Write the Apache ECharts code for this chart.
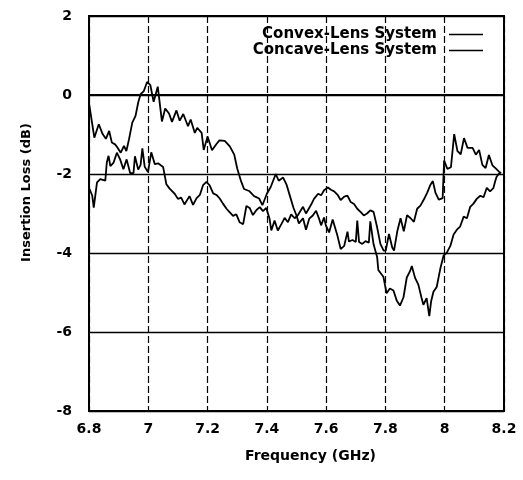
<!DOCTYPE html>
<html>
<head>
<meta charset="utf-8">
<script src="https://cdn.jsdelivr.net/npm/echarts@6/dist/echarts.min.js"></script>
<style>
html,body{margin:0;padding:0;background:#fff;}
#chart{width:523px;height:480px;}
</style>
</head>
<body>
<div id="chart"></div>
<script>
// Tick values
const xTicks = [6.8, 7, 7.2, 7.4, 7.6, 7.8, 8, 8.2];
const yTicks = [-8, -6, -4, -2, 0, 2];

// Convex-Lens System
const freqA = [6.800,6.818,6.833,6.846,6.857,6.868,6.877,6.888,6.896,6.907,6.918,6.926,6.935,6.946,6.957,6.966,6.974,6.985,6.996,7.007,7.018,7.032,7.046,7.057,7.070,7.080,7.095,7.106,7.118,7.134,7.143,7.157,7.165,7.180,7.187,7.200,7.215,7.230,7.240,7.258,7.275,7.290,7.300,7.312,7.323,7.340,7.357,7.374,7.385,7.400,7.413,7.430,7.440,7.455,7.466,7.478,7.490,7.500,7.508,7.522,7.532,7.543,7.555,7.566,7.577,7.583,7.593,7.599,7.610,7.622,7.627,7.638,7.649,7.661,7.672,7.677,7.689,7.700,7.705,7.711,7.722,7.733,7.744,7.749,7.760,7.772,7.776,7.793,7.804,7.815,7.827,7.838,7.849,7.861,7.872,7.883,7.889,7.900,7.911,7.922,7.928,7.939,7.948,7.954,7.962,7.973,7.985,7.996,8.007,8.019,8.030,8.041,8.052,8.064,8.075,8.086,8.097,8.108,8.120,8.131,8.142,8.153,8.164,8.170,8.175,8.188];
const lossA = [-0.20,-1.08,-0.74,-0.99,-1.11,-0.91,-1.20,-1.25,-1.33,-1.46,-1.29,-1.42,-1.12,-0.70,-0.53,-0.19,0.02,0.10,0.33,0.25,-0.17,0.21,-0.67,-0.34,-0.47,-0.68,-0.39,-0.65,-0.48,-0.79,-0.62,-0.96,-0.83,-0.96,-1.39,-1.05,-1.40,-1.24,-1.15,-1.16,-1.30,-1.51,-1.86,-2.16,-2.38,-2.43,-2.56,-2.62,-2.79,-2.50,-2.33,-2.00,-2.17,-2.09,-2.26,-2.56,-2.86,-3.05,-3.25,-3.12,-3.41,-3.13,-3.05,-2.93,-3.15,-3.30,-3.10,-3.30,-3.48,-3.15,-3.15,-3.56,-3.90,-3.82,-3.46,-3.71,-3.67,-3.72,-3.18,-3.72,-3.77,-3.70,-3.74,-3.20,-3.78,-4.10,-4.43,-4.60,-5.02,-4.90,-4.95,-5.20,-5.33,-5.12,-4.62,-4.46,-4.33,-4.63,-4.80,-5.14,-5.31,-5.14,-5.60,-5.23,-4.98,-4.86,-4.40,-4.07,-3.99,-3.82,-3.53,-3.41,-3.33,-3.08,-3.12,-2.83,-2.75,-2.63,-2.55,-2.59,-2.35,-2.44,-2.36,-2.19,-2.07,-1.95];

// Concave-Lens System
const freqB = [6.802,6.811,6.816,6.827,6.838,6.855,6.860,6.866,6.872,6.883,6.894,6.905,6.916,6.927,6.939,6.950,6.955,6.966,6.974,6.980,6.988,6.999,7.010,7.022,7.033,7.050,7.061,7.072,7.089,7.100,7.111,7.122,7.139,7.151,7.163,7.174,7.185,7.196,7.207,7.219,7.230,7.241,7.252,7.264,7.275,7.286,7.297,7.308,7.320,7.331,7.342,7.353,7.365,7.376,7.387,7.398,7.409,7.415,7.426,7.437,7.449,7.460,7.471,7.482,7.494,7.505,7.522,7.532,7.549,7.559,7.573,7.583,7.593,7.606,7.616,7.627,7.638,7.649,7.661,7.672,7.683,7.694,7.705,7.716,7.727,7.738,7.749,7.760,7.772,7.783,7.794,7.801,7.812,7.823,7.829,7.840,7.851,7.862,7.873,7.885,7.896,7.907,7.918,7.930,7.941,7.952,7.960,7.969,7.980,7.993,7.998,8.009,8.021,8.032,8.043,8.054,8.065,8.077,8.094,8.105,8.116,8.127,8.138,8.149,8.161,8.172,8.183,8.190];
const lossB = [-2.38,-2.55,-2.85,-2.21,-2.13,-2.17,-1.71,-1.54,-1.80,-1.71,-1.46,-1.63,-1.88,-1.63,-1.98,-1.98,-1.55,-1.89,-1.77,-1.35,-1.82,-1.95,-1.45,-1.75,-1.73,-1.82,-2.26,-2.37,-2.50,-2.63,-2.60,-2.77,-2.56,-2.78,-2.61,-2.53,-2.28,-2.20,-2.29,-2.49,-2.53,-2.62,-2.75,-2.88,-2.97,-3.06,-3.02,-3.22,-3.27,-2.81,-2.86,-3.04,-2.91,-2.84,-2.94,-2.86,-3.13,-3.43,-3.18,-3.43,-3.27,-3.11,-3.22,-3.02,-3.12,-3.04,-2.83,-3.00,-2.78,-2.63,-2.50,-2.54,-2.41,-2.34,-2.40,-2.44,-2.52,-2.66,-2.57,-2.55,-2.71,-2.76,-2.88,-2.96,-3.05,-3.00,-2.92,-2.96,-3.35,-3.77,-3.94,-3.94,-3.52,-3.86,-3.94,-3.45,-3.12,-3.45,-3.04,-3.12,-3.21,-2.88,-2.80,-2.64,-2.47,-2.27,-2.18,-2.48,-2.65,-2.61,-1.66,-1.87,-1.83,-0.99,-1.42,-1.50,-1.09,-1.34,-1.34,-1.51,-1.39,-1.77,-1.85,-1.52,-1.78,-1.86,-1.94,-1.98];

const seriesNames = ['Convex-Lens System', 'Concave-Lens System'];

function pairs(xs, ys) { return xs.map((x, i) => [x, ys[i]]); }

const FONT = '"DejaVu Sans", Verdana, sans-serif';
const chart = echarts.init(document.getElementById('chart'), null, {renderer: 'canvas'});

const legendBase = {
  orient: 'horizontal',
  right: 35,
  align: 'right',
  icon: 'rect',
  itemWidth: 34,
  itemHeight: 1.6,
  textStyle: {color: '#000', fontWeight: 'bold', fontSize: 15, fontFamily: FONT, padding: [0, 7, 0, 0]},
  selectedMode: false
};

chart.setOption({
  backgroundColor: '#fff',
  animation: false,
  grid: {left: 89, right: 19, top: 16, bottom: 69, show: true, borderColor: '#000', borderWidth: 2, backgroundColor: 'transparent'},
  legend: [
    Object.assign({}, legendBase, {data: [seriesNames[0]], top: 22}),
    Object.assign({}, legendBase, {data: [seriesNames[1]], top: 38})
  ],
  xAxis: {
    type: 'value',
    min: xTicks[0], max: xTicks[xTicks.length - 1], interval: 0.2,
    name: 'Frequency (GHz)', nameLocation: 'middle', nameGap: 38,
    nameTextStyle: {color: '#000', fontWeight: 'bold', fontSize: 14, fontFamily: FONT, padding: [0, 0, 0, 28]},
    axisLine: {show: true, lineStyle: {color: '#000', width: 2}},
    axisTick: {show: false},
    axisLabel: {color: '#000', fontWeight: 'bold', fontSize: 14, fontFamily: FONT, margin: 11},
    splitLine: {show: true, lineStyle: {color: '#000', width: 1.2, type: [7, 3]}}
  },
  yAxis: {
    type: 'value',
    min: yTicks[0], max: yTicks[yTicks.length - 1], interval: 2,
    name: 'Insertion Loss (dB)', nameLocation: 'middle', nameGap: 56,
    nameTextStyle: {color: '#000', fontWeight: 'bold', fontSize: 13, fontFamily: FONT, padding: [0, 0, 0, 42]},
    axisLine: {show: true, lineStyle: {color: '#000', width: 2}},
    axisTick: {show: false},
    axisLabel: {color: '#000', fontWeight: 'bold', fontSize: 14, fontFamily: FONT, margin: 17},
    splitLine: {show: true, lineStyle: {color: '#000', width: 1.4}}
  },
  series: [
    {name: seriesNames[0], type: 'line', data: pairs(freqA, lossA), symbol: 'none',
     lineStyle: {color: '#000', width: 1.8}, itemStyle: {color: '#000'}},
    {name: seriesNames[1], type: 'line', data: pairs(freqB, lossB), symbol: 'none',
     lineStyle: {color: '#000', width: 1.8}, itemStyle: {color: '#000'}}
  ]
});
</script>
</body>
</html>
